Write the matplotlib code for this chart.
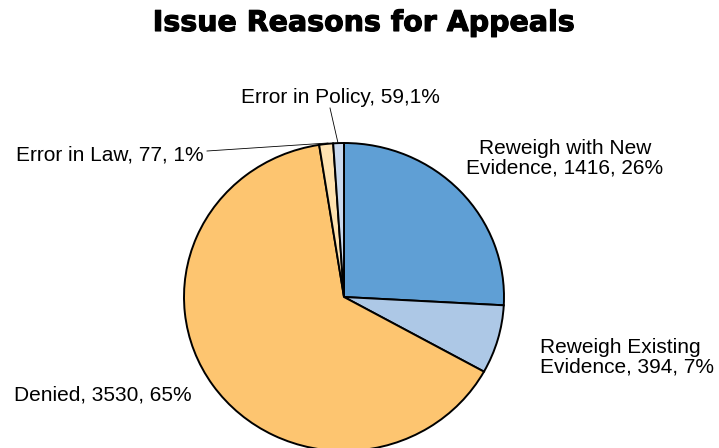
import numpy as np
import matplotlib.pyplot as plt
import matplotlib.patheffects as pe

labels = ["Reweigh with New\nEvidence", "Reweigh Existing\nEvidence", "Denied", "Error in Law", "Error in Policy"]
counts = [1416, 394, 3530, 77, 59]
pct_labels = ["26%", "7%", "65%", "1%", "1%"]
colors = ["#5F9FD5", "#ADC8E6", "#FDC570", "#FEE2B0", "#CADAEF"]

W, H = 719, 448
fig = plt.figure(figsize=(W / 100, H / 100), dpi=100)
ax = fig.add_axes([0, 0, 1, 1])

# pie is slightly flattened in the original: 160 px wide radius, 154 px tall
rx, ry = 160, 154
sy = rx / ry
cx, cy = 344, 297

ax.pie(counts, colors=colors, startangle=90, counterclock=False,
       center=(cx, (H - cy) * sy), radius=rx,
       wedgeprops=dict(edgecolor="black", linewidth=1.4))
ax.set_aspect("auto")
ax.set_xlim(0, W)
ax.set_ylim(0, H * sy)
ax.axis("off")

def fx(x):
    return x / W

def fy(y):
    return 1 - y / H

font = dict(family="Liberation Sans", fontsize=15)

fig.text(fx(565), fy(158), f"{labels[0]}, {counts[0]}, {pct_labels[0]}", ha="center", va="center", linespacing=1.05, **font)
fig.text(fx(540), fy(357), f"{labels[1]}, {counts[1]}, {pct_labels[1]}", ha="left", va="center", linespacing=1.05, **font)
fig.text(fx(103), fy(395), f"{labels[2]}, {counts[2]}, {pct_labels[2]}", ha="center", va="center", **font)
fig.text(fx(110), fy(155), f"{labels[3]}, {counts[3]}, {pct_labels[3]}", ha="center", va="center", **font)
fig.text(fx(340), fy(97), f"{labels[4]}, {counts[4]},{pct_labels[4]}", ha="center", va="center", **font)

# leader lines
fig.add_artist(plt.Line2D([fx(207), fx(328)], [fy(151), fy(143)], color="black", linewidth=0.6))
fig.add_artist(plt.Line2D([fx(330), fx(338)], [fy(108), fy(143)], color="black", linewidth=0.6))

# no Arial Black available, so thicken a bold face with a thin stroke
fig.text(fx(364), fy(23), "Issue Reasons for Appeals", ha="center", va="center",
         family="DejaVu Sans", fontweight="heavy", fontsize=20.5,
         path_effects=[pe.withStroke(linewidth=0.8, foreground="black")])

fig.savefig("out.png", dpi=100)
